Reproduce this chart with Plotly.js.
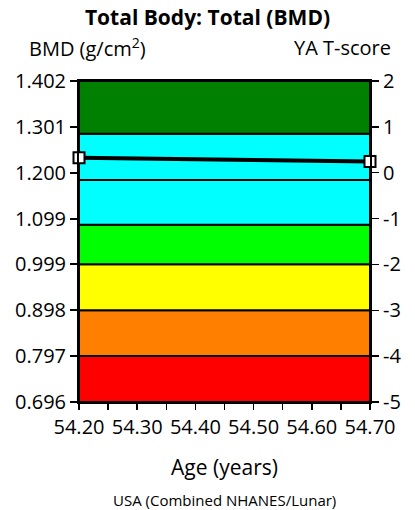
<!DOCTYPE html>
<html><head><meta charset="utf-8">
<script src="https://cdn.plot.ly/plotly-3.0.1.min.js"></script>
<style>html,body{margin:0;padding:0;background:#fff}#chart{width:415px;height:510px}</style>
</head><body><div id="chart"></div>
<script>
// Data
const ages = [54.20, 54.70];
const bmd = [1.233, 1.225];
const bmdTicks = [0.696, 0.797, 0.898, 0.999, 1.099, 1.200, 1.301, 1.402];
const tscoreTicks = [-5, -4, -3, -2, -1, 0, 1, 2];
const tscoreLabels = ['-5', '-4', '-3', '-2', '-1', '0', '1', '2'];
const ageTicks = [54.2, 54.3, 54.4, 54.5, 54.6, 54.7];
const bandLower = [0.696, 0.797, 0.898, 0.999, 1.086, 1.184, 1.286];
const bandUpper = [0.797, 0.898, 0.999, 1.086, 1.184, 1.286, 1.402];
const bandColors = ['#ff0000', '#ff8000', '#ffff00', '#00ff00', '#00ffff', '#00ffff', '#008000'];

const FONT = 'Open Sans, DejaVu Sans, sans-serif';

const shapes = bandLower.map((lo, i) => ({
  type: 'rect', xref: 'paper', yref: 'y', x0: 0, x1: 1, y0: lo, y1: bandUpper[i],
  fillcolor: bandColors[i], line: {color: '#000', width: 2}, layer: 'below'
}));

const traces = [
  {x: ages, y: bmd, type: 'scatter', mode: 'lines+markers', cliponaxis: false,
   line: {color: '#000', width: 4},
   marker: {symbol: 'square', size: 11, color: '#fff', line: {color: '#000', width: 2}},
   hoverinfo: 'none', showlegend: false},
  {x: ages, y: [null, null], yaxis: 'y2', type: 'scatter', mode: 'lines', showlegend: false, hoverinfo: 'none'}
];

const layout = {
  width: 415, height: 510,
  margin: {l: 79, r: 45, t: 81, b: 108},
  paper_bgcolor: '#fff', plot_bgcolor: '#fff',
  font: {family: FONT, color: '#000', size: 20},
  title: {text: '<b>Total Body: Total (BMD)</b>', x: 0.5, xanchor: 'center', y: 0.965, yanchor: 'middle',
          font: {family: FONT, size: 21, color: '#000'}},
  xaxis: {
    range: [54.2, 54.7], tickvals: ageTicks, ticktext: ageTicks.map(v => v.toFixed(2)),
    ticks: 'outside', ticklen: 6, tickwidth: 1.5, tickcolor: '#000',
    minor: {dtick: 0.05, tick0: 54.2, ticks: 'outside', ticklen: 6, tickwidth: 1.5, tickcolor: '#000'},
    showgrid: false, zeroline: false, showline: true, linecolor: '#000', linewidth: 2, mirror: true,
    tickfont: {family: FONT, size: 20},
    title: {text: 'Age (years)', font: {family: FONT, size: 21}, standoff: 21}
  },
  yaxis: {
    range: [0.696, 1.402], tickvals: bmdTicks, ticktext: bmdTicks.map(v => v.toFixed(3)),
    ticks: 'outside', ticklen: 7, tickwidth: 1.5, tickcolor: '#000',
    showgrid: false, zeroline: false, showline: true, linecolor: '#000', linewidth: 2,
    tickfont: {family: FONT, size: 20}
  },
  yaxis2: {
    range: [-5, 2], tickvals: tscoreTicks, ticktext: tscoreLabels, overlaying: 'y', side: 'right',
    ticks: 'outside', ticklen: 7, tickwidth: 1.5, tickcolor: '#000',
    showgrid: false, zeroline: false, showline: true, linecolor: '#000', linewidth: 2,
    tickfont: {family: FONT, size: 20}
  },
  shapes: shapes,
  annotations: [
    {text: 'BMD (g/cm<sup>2</sup>)', xref: 'paper', yref: 'paper', x: -0.179, y: 1.103, xanchor: 'left', yanchor: 'middle',
     showarrow: false, font: {family: FONT, size: 20}},
    {text: 'YA T-score', xref: 'paper', yref: 'paper', x: 1.079, y: 1.103, xanchor: 'right', yanchor: 'middle',
     showarrow: false, font: {family: FONT, size: 20}},
    {text: 'USA (Combined NHANES/Lunar)', xref: 'paper', yref: 'paper', x: 0.5, y: -0.305, xanchor: 'center', yanchor: 'middle',
     showarrow: false, font: {family: FONT, size: 15}}
  ]
};

Plotly.newPlot('chart', traces, layout, {displayModeBar: false, staticPlot: true});
</script></body></html>
